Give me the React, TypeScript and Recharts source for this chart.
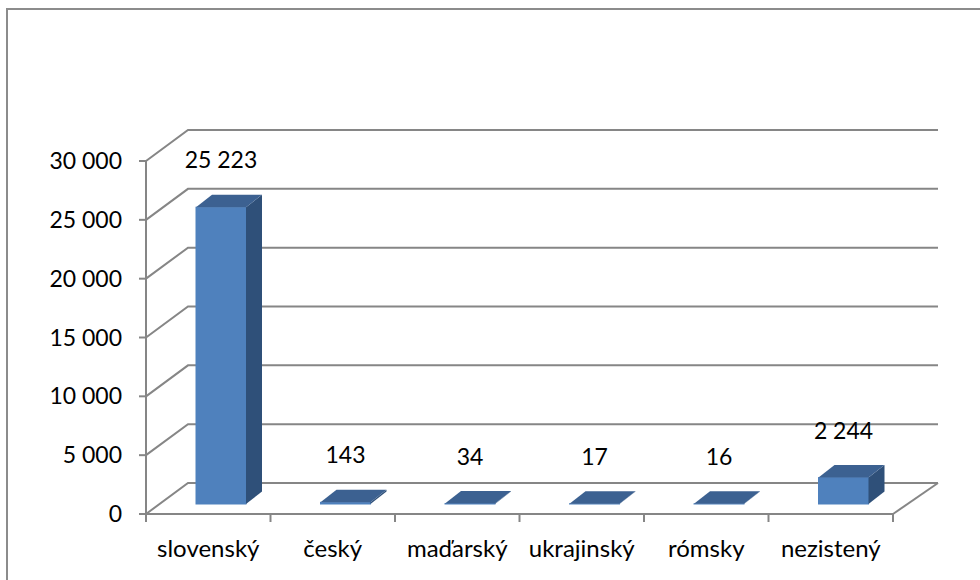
import React from 'react'
import { BarChart, Bar, XAxis, YAxis, CartesianGrid, LabelList } from 'recharts'

// materinský jazyk – počet obyvateľov
const categories = ['slovenský', 'český', 'maďarský', 'ukrajinský', 'rómsky', 'nezistený']
const counts = [25223, 143, 34, 17, 16, 2244]
const yTicks = [0, 5000, 10000, 15000, 20000, 25000, 30000]

const data = categories.map((name, i) => ({ name, value: counts[i] }))

const FRONT = '#4F81BD'
const TOP = '#3C6191'
const SIDE = '#2F5079'
const GRID = '#868686'
const FONT = 'Lato, "Open Sans", sans-serif'

// šikmá projekcia: zadná stena, posun stĺpcov, hĺbka stĺpcov
const WALL_DX = 42
const WALL_DX_RIGHT = 45
const WALL_DY = -31
const BAR_DX = 13
const BAR_DY = -10
const DEPTH_DX = 16
const DEPTH_DY = -12.5

const fmt = (v: number) => String(v).replace(/\B(?=(\d{3})+(?!\d))/g, ' ')

const renderGridLine = (props: any) => {
  const { x1, y1, x2, y, height, index } = props
  const isFloor = y != null && height != null ? Math.abs(y1 - (y + height)) < 1 : index === 0
  return (
    <g key={`grid-${index}`}>
      <polyline
        points={`${x1},${y1} ${x1 + WALL_DX},${y1 + WALL_DY} ${x2 + WALL_DX_RIGHT},${y1 + WALL_DY}`}
        fill="none"
        stroke={GRID}
        strokeWidth={2}
      />
      {isFloor && (
        <line x1={x2} y1={y1} x2={x2 + WALL_DX_RIGHT} y2={y1 + WALL_DY} stroke={GRID} strokeWidth={2} />
      )}
    </g>
  )
}

const Box3D = (props: any) => {
  const { x, y, width, height } = props
  if (x == null || y == null) return null
  const fx = x + BAR_DX
  const fy = y + BAR_DY
  const h = Math.max(height || 0, 0)
  const top = `${fx},${fy} ${fx + DEPTH_DX},${fy + DEPTH_DY} ${fx + width + DEPTH_DX},${fy + DEPTH_DY} ${fx + width},${fy}`
  const side = `${fx + width},${fy} ${fx + width + DEPTH_DX},${fy + DEPTH_DY} ${fx + width + DEPTH_DX},${fy + h + DEPTH_DY} ${fx + width},${fy + h}`
  return (
    <g>
      <rect x={fx} y={fy} width={width} height={h} fill={FRONT} stroke={FRONT} strokeWidth={1} />
      <polygon points={side} fill={SIDE} />
      <polygon points={top} fill={TOP} />
    </g>
  )
}

const renderValueLabel = (props: any) => {
  const { x, y, width, value } = props
  return (
    <text x={x + width / 2 + BAR_DX} y={y - 49} textAnchor="middle" fontFamily={FONT} fontSize={23} fill="#000">
      {fmt(value)}
    </text>
  )
}

const CategoryTick = (props: any) => {
  const { x, y, payload, width, visibleTicksCount, index } = props
  const half = width && visibleTicksCount ? width / visibleTicksCount / 2 : 0
  return (
    <g>
      {half > 0 && <line x1={x - half} y1={y - 8} x2={x - half} y2={y} stroke={GRID} strokeWidth={2} />}
      {half > 0 && index === visibleTicksCount - 1 && (
        <line x1={x + half} y1={y - 8} x2={x + half} y2={y} stroke={GRID} strokeWidth={2} />
      )}
      <text x={x} y={y + 35} textAnchor="middle" fontFamily={FONT} fontSize={24} fill="#000">
        {payload.value}
      </text>
    </g>
  )
}

export default function App() {
  return (
    <div style={{ position: 'absolute', left: 0, top: 0, width: 980, height: 580, overflow: 'hidden', background: '#fff' }}>
      <div
        style={{
          position: 'absolute',
          left: 6,
          top: 8,
          width: 1100,
          height: 700,
          border: '2px solid #8c8c8c'
        }}
      />
      <div style={{ position: 'absolute', left: 0, top: 0 }}>
        <BarChart width={980} height={580} data={data} margin={{ top: 161, right: 87, left: 0, bottom: 0 }} barSize={50}>
          <CartesianGrid vertical={false} horizontal={renderGridLine} />
          <XAxis
            dataKey="name"
            height={66}
            interval={0}
            tickLine={false}
            tickSize={8}
            tickMargin={0}
            axisLine={{ stroke: GRID, strokeWidth: 2 }}
            tick={<CategoryTick />}
          />
          <YAxis
            width={146}
            domain={[0, 30000]}
            ticks={yTicks}
            interval={0}
            tickSize={7}
            tickMargin={17}
            tickFormatter={fmt}
            axisLine={{ stroke: GRID, strokeWidth: 2 }}
            tickLine={{ stroke: GRID, strokeWidth: 2 }}
            tick={{ fontSize: 23, fontFamily: FONT, fill: '#000' }}
          />
          <Bar dataKey="value" shape={<Box3D />} isAnimationActive={false}>
            <LabelList dataKey="value" content={renderValueLabel} />
          </Bar>
        </BarChart>
      </div>
    </div>
  )
}
